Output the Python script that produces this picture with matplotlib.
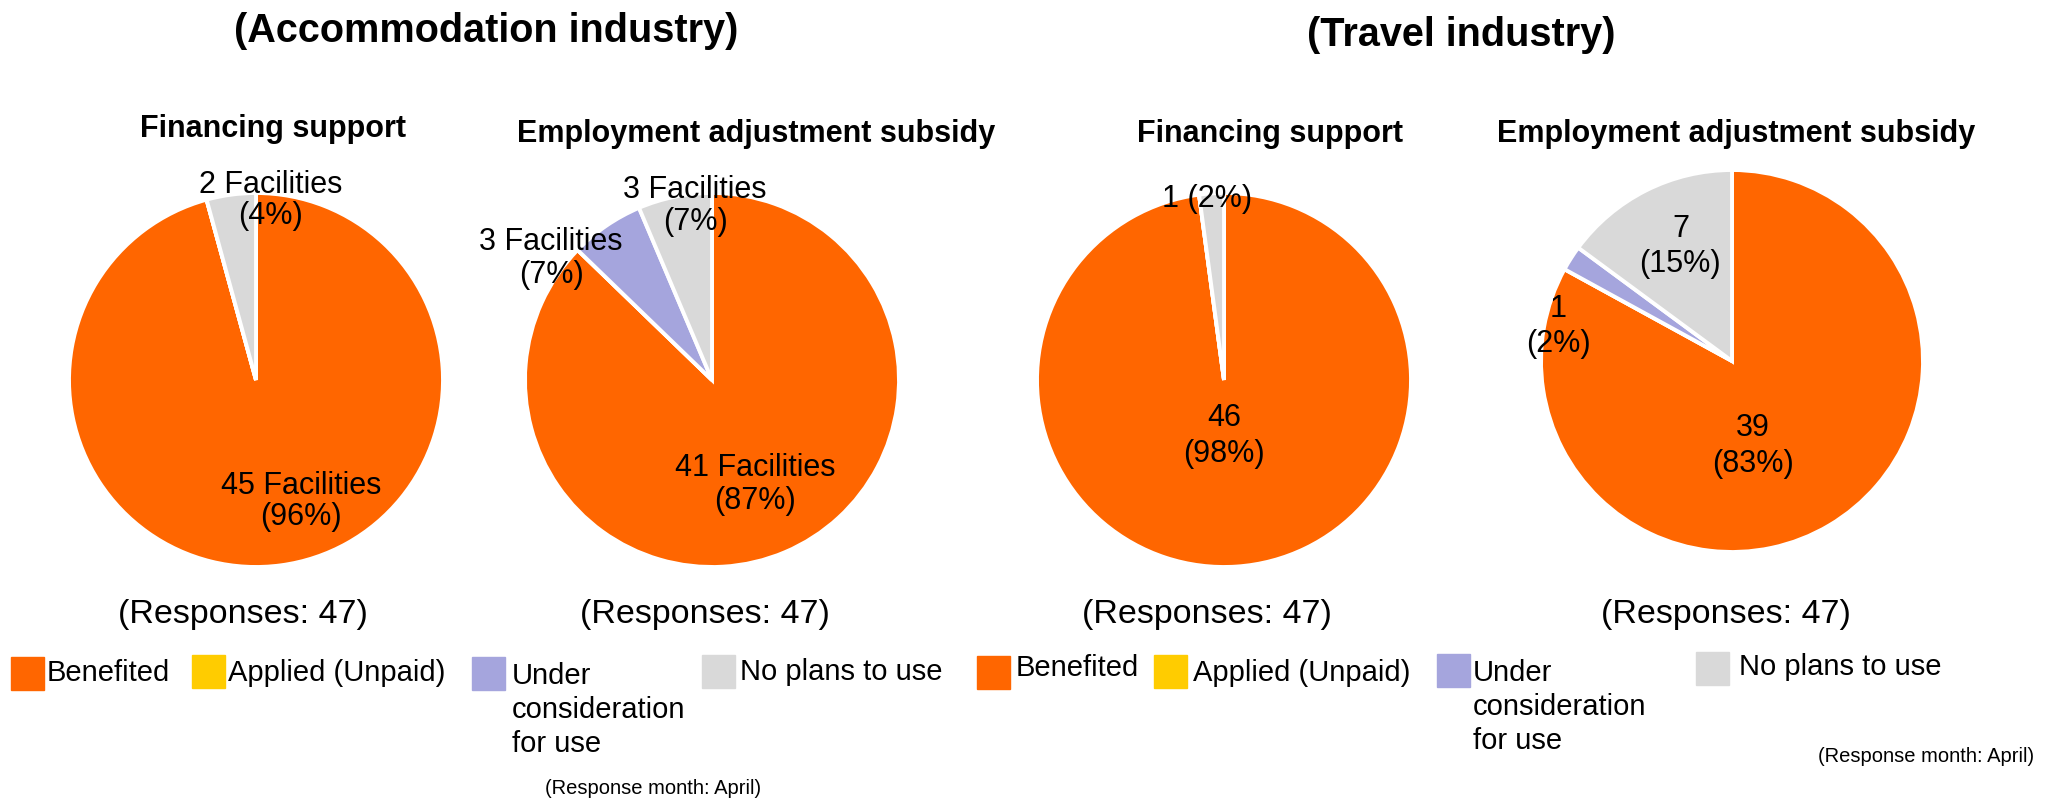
import matplotlib.pyplot as plt
from matplotlib.patches import Rectangle

plt.rcParams["font.family"] = ["Liberation Sans", "DejaVu Sans"]

# ── Data ─────────────────────────────────────────────────────────────────────

categories = ["Benefited", "Applied (Unpaid)", "Under\nconsideration\nfor use", "No plans to use"]
colors = ["#FF6600", "#FFCC00", "#A5A5DD", "#D9D9D9"]

accom_financing = [45, 0, 0, 2]
accom_employment = [41, 0, 3, 3]
travel_financing = [46, 0, 0, 1]
travel_employment = [39, 0, 1, 7]

accom_financing_labels = ["45 Facilities\n(96%)", "", "", "2 Facilities\n(4%)"]
accom_employment_labels = ["41 Facilities\n(87%)", "", "3 Facilities\n(7%)", "3 Facilities\n(7%)"]
travel_financing_labels = ["46\n(98%)", "", "", "1 (2%)"]
travel_employment_labels = ["39\n(83%)", "", "1\n(2%)", "7\n(15%)"]

responses = [47, 47, 47, 47]
sections = ["(Accommodation industry)", "(Travel industry)"]
subtitles = ["Financing support", "Employment adjustment subsidy",
             "Financing support", "Employment adjustment subsidy"]

# ── Layout (pixel coords, origin top-left) ───────────────────────────────────

W, H = 2058, 798


def fx(x):
    return x / W


def fy(y):
    return 1 - y / H


fig = plt.figure(figsize=(W / 100, H / 100), dpi=100)

# pie centre x, centre y, radius (px), values, labels, label offsets (radius units), line spacing
pies = [
    (256, 380, 187, accom_financing, accom_financing_labels,
     [(0.24, -0.65), None, None, (0.08, 0.96)], 1.02),
    (712, 380, 187, accom_employment, accom_employment_labels,
     [(0.23, -0.56), None, (-0.86, 0.65), (-0.09, 0.93)], 1.12),
    (1224, 380, 187, travel_financing, travel_financing_labels,
     [(0.0, -0.30), None, None, (-0.09, 0.97)], 1.24),
    (1732, 361, 191, travel_employment, travel_employment_labels,
     [(0.11, -0.445), None, (-0.91, 0.18), (-0.27, 0.60)], 1.22),
]

for cx, cy, r, values, labels, label_pos, lsp in pies:
    ax = fig.add_axes([fx(cx - r), fy(cy + r), 2 * r / W, 2 * r / H])
    ax.pie(values, colors=colors, startangle=90, counterclock=False,
           wedgeprops=dict(edgecolor="white", linewidth=2.8))
    ax.set_xlim(-1, 1)
    ax.set_ylim(-1, 1)
    ax.set_aspect("equal")
    ax.axis("off")
    for lab, pos in zip(labels, label_pos):
        if lab and pos is not None:
            ax.text(pos[0], pos[1], lab, ha="center", va="center",
                    fontsize=22, linespacing=lsp)

# section titles
fig.text(fx(486), fy(31), sections[0], ha="center", va="center",
         fontsize=28.5, fontweight="bold")
fig.text(fx(1461), fy(35), sections[1], ha="center", va="center",
         fontsize=28.5, fontweight="bold")

# subtitles and response counts
sub_pos = [(273, 129), (756, 134), (1270, 134), (1736, 134)]
resp_pos = [(243, 614), (705, 614), (1207, 614), (1726, 614)]
for t, (x, y) in zip(subtitles, sub_pos):
    fig.text(fx(x), fy(y), t, ha="center", va="center", fontsize=22, fontweight="bold")
for n, (x, y) in zip(responses, resp_pos):
    fig.text(fx(x), fy(y), f"(Responses: {n})", ha="center", va="center", fontsize=24.5)

# legends: (square left x, square top y, text x, text centre y)
legend_left = [(11, 657, 47, 673), (192, 655, 228, 673),
               (472, 657, 512, 710), (702, 655, 740, 672)]
legend_right = [(977, 656, 1016, 668), (1154, 655, 1193, 673),
                (1437, 654, 1473, 707), (1696, 652, 1739, 667)]

for items in (legend_left, legend_right):
    for cat, col, (sx, sy, tx, ty) in zip(categories, colors, items):
        fig.patches.append(Rectangle((fx(sx), fy(sy + 33)), 33 / W, 33 / H,
                                     transform=fig.transFigure, color=col))
        fig.text(fx(tx), fy(ty), cat, ha="left", va="center",
                 fontsize=21, linespacing=1.26)

fig.text(fx(653), fy(789), "(Response month: April)", ha="center", va="center", fontsize=14.5)
fig.text(fx(1926), fy(757), "(Response month: April)", ha="center", va="center", fontsize=14.5)

fig.savefig("out.png", dpi=100)
